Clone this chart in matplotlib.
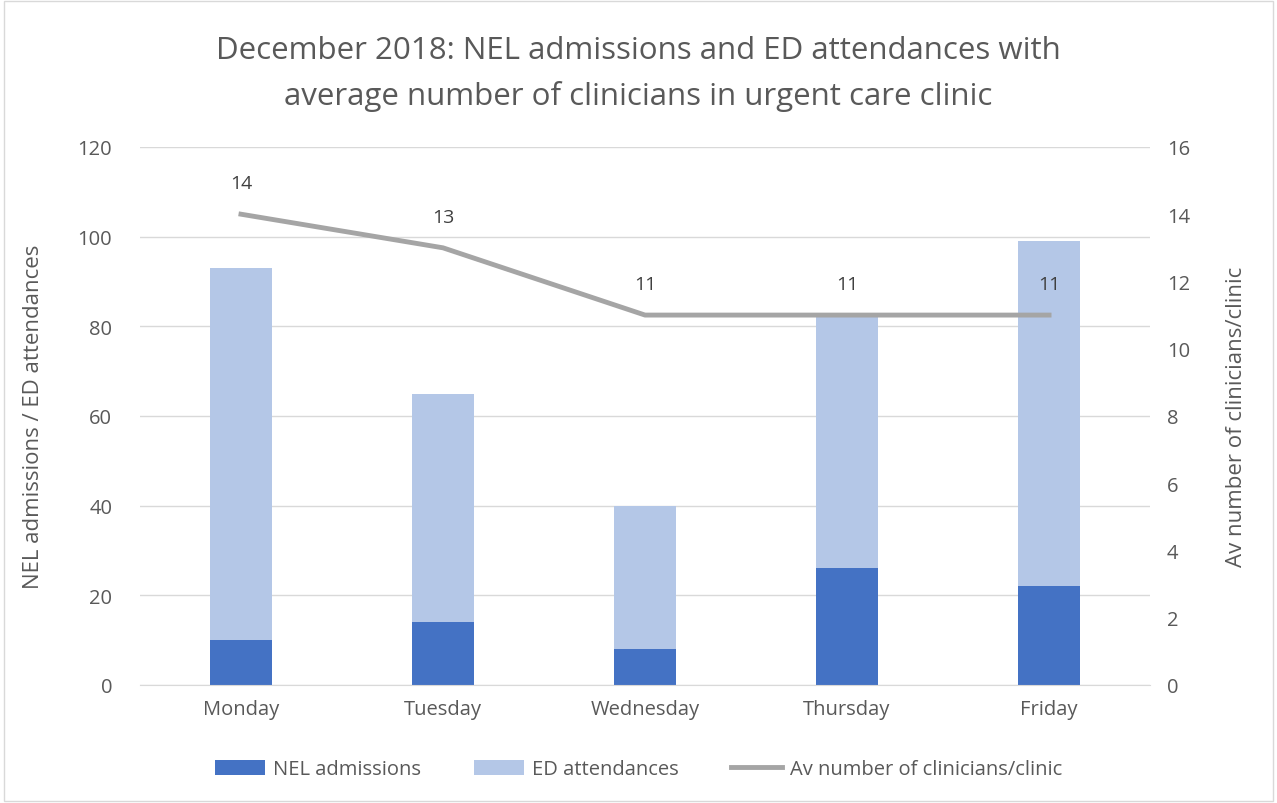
import matplotlib.pyplot as plt
import numpy as np

plt.rcParams['font.family'] = ['Open Sans', 'DejaVu Sans']

days = ['Monday', 'Tuesday', 'Wednesday', 'Thursday', 'Friday']
nel_admissions = [10, 14, 8, 26, 22]
ed_attendances = [83, 51, 32, 56, 77]
av_clinicians = [14, 13, 11, 11, 11]

txt = '#595959'
grid = '#d9d9d9'

fig = plt.figure(figsize=(12.77, 8.04), dpi=100)
ax = fig.add_axes([0.1096, 0.1468, 0.791, 0.6692])
x = np.arange(len(days))

b1 = ax.bar(x, nel_admissions, width=0.31, color='#4472C4', label='NEL admissions', zorder=2)
b2 = ax.bar(x, ed_attendances, width=0.31, bottom=nel_admissions, color='#B4C7E7',
            label='ED attendances', zorder=2)
ax.set_ylim(0, 120)
ax.set_yticks(range(0, 121, 20))
ax.set_xlim(-0.5, 4.5)
ax.set_xticks(x)
ax.set_xticklabels(days)
ax.yaxis.grid(True, color=grid, linewidth=1, zorder=0)
for s in ['top', 'right', 'left']:
    ax.spines[s].set_visible(False)
ax.spines['bottom'].set_color(grid)
ax.tick_params(length=0, labelsize=14.5, colors=txt)
ax.tick_params(axis='y', pad=20)
ax.tick_params(axis='x', pad=10)
ax.set_ylabel('NEL admissions / ED attendances', fontsize=16, color=txt, labelpad=24)

ax2 = ax.twinx()
ln, = ax2.plot(x, av_clinicians, color='#A5A5A5', linewidth=3.5, label='Av number of clinicians/clinic')
ax2.set_ylim(0, 16)
ax2.set_yticks(range(0, 17, 2))
for s in ['top', 'right', 'left', 'bottom']:
    ax2.spines[s].set_visible(False)
ax2.tick_params(length=0, labelsize=14.5, colors=txt, pad=12)
ax2.set_ylabel('Av number of clinicians/clinic', fontsize=16, color=txt, labelpad=26)
for xi, v in zip(x, av_clinicians):
    ax2.annotate(str(v), (xi, v), xytext=(0, 16), textcoords='offset points',
                 ha='center', va='bottom', fontsize=14, color='#404040')

fig.suptitle('December 2018: NEL admissions and ED attendances with\naverage number of clinicians in urgent care clinic',
             y=0.955, fontsize=22.5, color=txt, linespacing=1.6)

fig.legend(handles=[b1, b2, ln], loc='center', bbox_to_anchor=(0.5, 0.042), ncol=3,
           frameon=False, fontsize=14.5, labelcolor=txt, handlelength=2.5, columnspacing=2.6,
           handleheight=0.8, handletextpad=0.4)

fig.patches.append(plt.Rectangle((0.003, 0.003), 0.994, 0.994, transform=fig.transFigure,
                                 fill=False, edgecolor=grid, linewidth=1))
fig.savefig('out.png', dpi=100)
